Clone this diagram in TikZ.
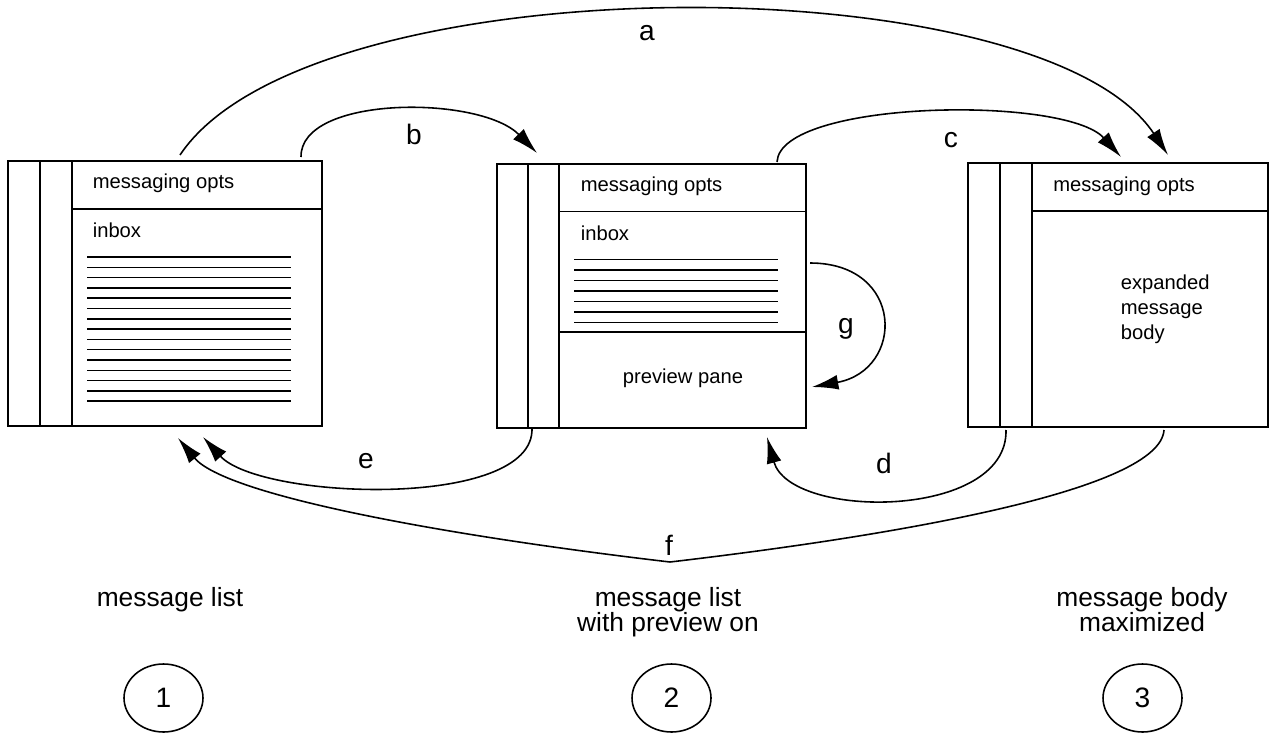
\documentclass[tikz,border=0pt]{standalone}
\usepackage{fontspec}
\setmainfont{Liberation Sans}
\usepackage{tikz}
\usetikzlibrary{positioning, shapes.geometric, arrows.meta}

\begin{document}
\begin{tikzpicture}[x=0.02cm, y=-0.02cm, line width=0.9pt]

\tikzstyle{screen} = [
    rectangle,
    draw,
    inner sep=0pt
];
\tikzstyle{pane} = [
    font=\fontsize{11.5}{14}\selectfont,
    inner sep=0pt,
    anchor=base west
];
\tikzstyle{tag} = [
    font=\fontsize{16}{18}\selectfont,
    inner sep=0pt,
    anchor=base
];
\tikzstyle{caption} = [
    font=\fontsize{15}{14.2}\selectfont,
    align=center,
    text depth=0pt
];
\tikzstyle{state} = [
    ellipse,
    draw,
    minimum width=1.58cm,
    minimum height=1.36cm,
    font=\fontsize{16}{18}\selectfont
];
\tikzstyle{flow} = [-{Latex[length=15pt, width=8.5pt]}];

\useasboundingbox (0,0) rectangle (1270,733);

% the three screens
\node[screen, minimum width=6.28cm, minimum height=5.3cm] (win1) at (165,293.5) {};
\node[screen, minimum width=6.18cm, minimum height=5.28cm] (win2) at (651.5,296) {};
\node[screen, minimum width=6cm, minimum height=5.28cm] (win3) at (1118,295) {};

% screen 1: message list
\draw (40,161) -- (40,426);
\draw (72,161) -- (72,426);
\draw (72,209) -- (322,209);
\node[pane] (opts1) at (92,189) {messaging opts};
\node[pane] (inbox1) at (92,237) {inbox};
\foreach \i in {0,...,14}
    \draw (87,{257+\i*10.3}) -- (291,{257+\i*10.3});

% screen 2: list with preview
\draw (528,164) -- (528,428);
\draw (559,164) -- (559,428);
\draw (559,211.5) -- (806,211.5);
\draw (559,332) -- (806,332);
\node[pane] (opts2) at (580,192) {messaging opts};
\node[pane] (inbox2) at (580,240.5) {inbox};
\foreach \i in {0,...,6}
    \draw (574,{259.5+\i*10.5}) -- (778,{259.5+\i*10.5});
\node[pane, anchor=base] (preview) at (683,383) {preview pane};

% screen 3: body maximized
\draw (1000,163) -- (1000,427);
\draw (1032,163) -- (1032,427);
\draw (1032,211) -- (1268,211);
\node[pane] (opts3) at (1052.5,191.5) {messaging opts};
\node[pane, align=left, anchor=north west, font=\fontsize{11.5}{14}\selectfont] (body) at (1120,274.5) {expanded\\message\\body};

% arrow ends
\coordinate (a-out) at (180,155);
\coordinate (a-in) at (1168,155);
\coordinate (b-out) at (301,157);
\coordinate (b-in) at (537,153);
\coordinate (c-out) at (777,162);
\coordinate (c-in) at (1121,157);
\coordinate (d-out) at (1006,430);
\coordinate (d-in) at (767,437);
\coordinate (e-out) at (532,428);
\coordinate (e-in) at (203,437);
\coordinate (f-out) at (1164,430);
\coordinate (f-low) at (670,562);
\coordinate (f-in) at (178,438);
\coordinate (g-out) at (810,263);
\coordinate (g-in) at (812,387);

% transitions
\draw[flow] (a-out) .. controls (309,-38) and (1040,-38) .. (a-in);
\draw[flow] (b-out) .. controls (300,95) and (480,95) .. (b-in);
\draw[flow] (c-out) .. controls (780,100) and (1065,95) .. (c-in);
\draw[flow] (d-out) .. controls (1008,520) and (790,520) .. (d-in);
\draw[flow] (e-out) .. controls (535,510) and (260,500) .. (e-in);
\draw[flow] (f-out) .. controls (1160,490) and (900,535) .. (f-low)
                    .. controls (440,535) and (225,495) .. (f-in);
\draw[flow] (g-out) .. controls (905,263) and (905,370) .. (g-in);

\node[tag] (ta) at (647,41) {a};
\node[tag] (tb) at (414,145) {b};
\node[tag] (tc) at (951,148) {c};
\node[tag] (td) at (884,473) {d};
\node[tag] (te) at (366,468) {e};
\node[tag] (tf) at (669,555) {f};
\node[tag] (tg) at (846,333) {g};

% captions and numbers
\node[caption] (cap1) at (170,597) {message list};
\node[caption] (cap2) at (668,609.5) {message list\\with preview on};
\node[caption] (cap3) at (1142,609.5) {message body\\maximized};

\node[state] (s1) at (163.5,698) {1};
\node[state] (s2) at (671.5,698) {2};
\node[state] (s3) at (1142.5,698) {3};

\end{tikzpicture}
\end{document}
